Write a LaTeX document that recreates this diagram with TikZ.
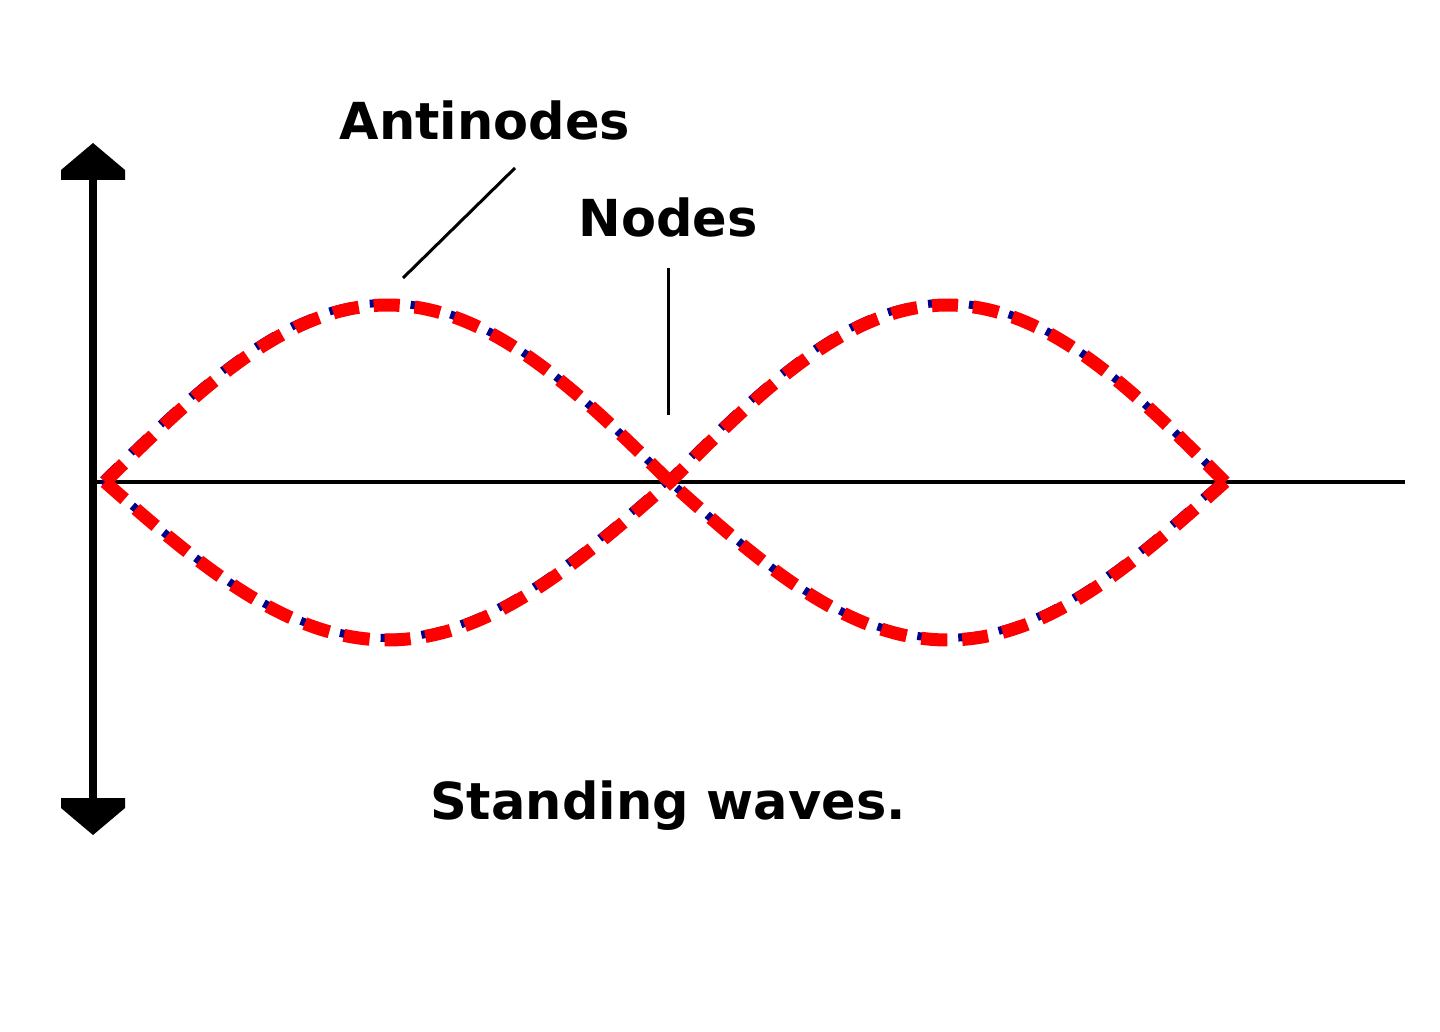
\documentclass[tikz,border=0pt]{standalone}
\usepackage{fontspec}
\setmainfont{DejaVu Sans}
\definecolor{wavered}{RGB}{255,0,0}
\definecolor{waveblue}{RGB}{0,0,140}
\begin{document}
\begin{tikzpicture}[x=1pt,y=-1pt,
  lbl/.style={font=\bfseries\fontsize{51}{56}\selectfont, inner sep=0pt},
  leader/.style={line width=3pt},
  wave/.style={wavered, line width=13pt, dash pattern=on 26pt off 15pt},
  waveshadow/.style={waveblue, line width=8pt, dash pattern=on 22pt off 19pt, dash phase=2pt}]
\useasboundingbox (0,0) rectangle (1440,1032);
% vertical double arrow
\draw[line width=8pt] (93,178) -- (93,800);
\fill (61,180) -- (125,180) -- (125,170) -- (93,143) -- (61,170) -- cycle;
\fill (61,798) -- (125,798) -- (125,808) -- (93,835) -- (61,808) -- cycle;
% horizontal axis
\draw[line width=4pt] (93,482) -- (1405,482);
% shadow curves
\begin{scope}[shift={(-2,-2)}]
\draw[waveshadow] plot[domain=105:670,samples=90] (\x,{482-177*sin((\x-105)/565*180)})
  -- plot[domain=670:1225,samples=90] (\x,{482+158*sin((\x-670)/555*180)});
\draw[waveshadow] plot[domain=105:670,samples=90] (\x,{482+158*sin((\x-105)/565*180)})
  -- plot[domain=670:1225,samples=90] (\x,{482-177*sin((\x-670)/555*180)});
\end{scope}
% red dashed curves
\draw[wave] plot[domain=105:670,samples=90] (\x,{482-177*sin((\x-105)/565*180)})
  -- plot[domain=670:1225,samples=90] (\x,{482+158*sin((\x-670)/555*180)});
\draw[wave] plot[domain=105:670,samples=90] (\x,{482+158*sin((\x-105)/565*180)})
  -- plot[domain=670:1225,samples=90] (\x,{482-177*sin((\x-670)/555*180)});
% labels
\node[lbl] (anti) at (485,120) {Antinodes};
\node[lbl] (nodes) at (668,217) {Nodes};
\node[lbl] (title) at (668,806) {Standing waves.};
\coordinate (a1) at (515,168);
\coordinate (a2) at (403,278);
\coordinate (n1) at (668,268);
\coordinate (n2) at (668,415);
\draw[leader] (a1) -- (a2);
\draw[leader] (n1) -- (n2);
\end{tikzpicture}
\end{document}
